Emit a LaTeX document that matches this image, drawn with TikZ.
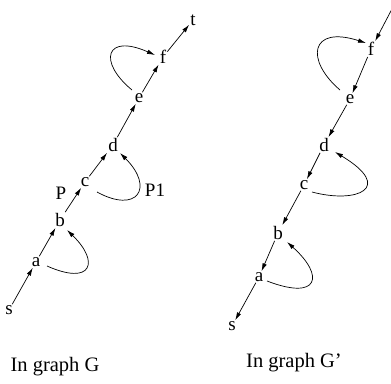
\documentclass[tikz,border=0pt]{standalone}
\usepackage{fontspec}
\setmainfont{Liberation Serif}
\usetikzlibrary{arrows.meta}
\begin{document}
\begin{tikzpicture}[x=1pt,y=-1pt,
  v/.style={inner sep=1pt,font=\fontsize{19}{21}\selectfont},
  lbl/.style={inner sep=0pt,font=\fontsize{20.5}{23}\selectfont},
  arr/.style={line width=0.7pt,-{Latex[length=8pt,width=4.5pt]}},
  lp/.style={line width=0.7pt,-{Latex[length=8pt,width=4.5pt]}}]
\useasboundingbox (0,0) rectangle (391,383);
% left graph G
\node[v] (s) at (9,310) {s};
\node[v] (a) at (36,262) {a};
\node[v] (b) at (60,220) {b};
\node[v] (c) at (85,182) {c};
\node[v] (d) at (113,145) {d};
\node[v] (e) at (139,98) {e};
\node[v] (f) at (163,57) {f};
\node[v] (t) at (193,20) {t};
\node[v] (P) at (61,193) {P};
\node[v] (P1) at (155,190) {P1};
\node[lbl] (lg) at (55,367) {In graph G};
\draw[arr] (s) -- (a);
\draw[arr] (a) -- (b);
\draw[arr] (b) -- (c);
\draw[arr] (c) -- (d);
\draw[arr] (d) -- (e);
\draw[arr] (e) -- (f);
\draw[arr] (f) -- (t);
\draw[lp] ([shift={(11,4)}]a.center) .. controls +(45,20) and +(33,32) .. ([shift={(7,10)}]b.center);
\draw[lp] ([shift={(12,10)}]c.center) .. controls +(40,22) and +(35,35) .. ([shift={(7,8)}]d.center);
\draw[lp] ([shift={(-7,-8)}]e.center) .. controls +(-34,-28) and +(-50,-22) .. ([shift={(-8,-2)}]f.center);
% right graph G'
\coordinate (in) at (393,7);
\node[v] (f2) at (371,49) {f};
\node[v] (e2) at (350,99) {e};
\node[v] (d2) at (324,145) {d};
\node[v] (c2) at (304,185) {c};
\node[v] (b2) at (278,233) {b};
\node[v] (a2) at (259,277) {a};
\node[v] (s2) at (232,326) {s};
\node[lbl] (lg2) at (294,363) {In graph G’};
\draw[arr] (in) -- (f2);
\draw[arr] (f2) -- (e2);
\draw[arr] (e2) -- (d2);
\draw[arr] (d2) -- (c2);
\draw[arr] (c2) -- (b2);
\draw[arr] (b2) -- (a2);
\draw[arr] (a2) -- (s2);
\draw[lp] ([shift={(-10,-9)}]e2.center) .. controls +(-35,-30) and +(-56,-18) .. ([shift={(-5,-6)}]f2.center);
\draw[lp] ([shift={(8,7)}]c2.center) .. controls +(45,12) and +(60,36) .. ([shift={(11,7)}]d2.center);
\draw[lp] ([shift={(8,4)}]a2.center) .. controls +(52,20) and +(38,34) .. ([shift={(9,9)}]b2.center);
\end{tikzpicture}
\end{document}
